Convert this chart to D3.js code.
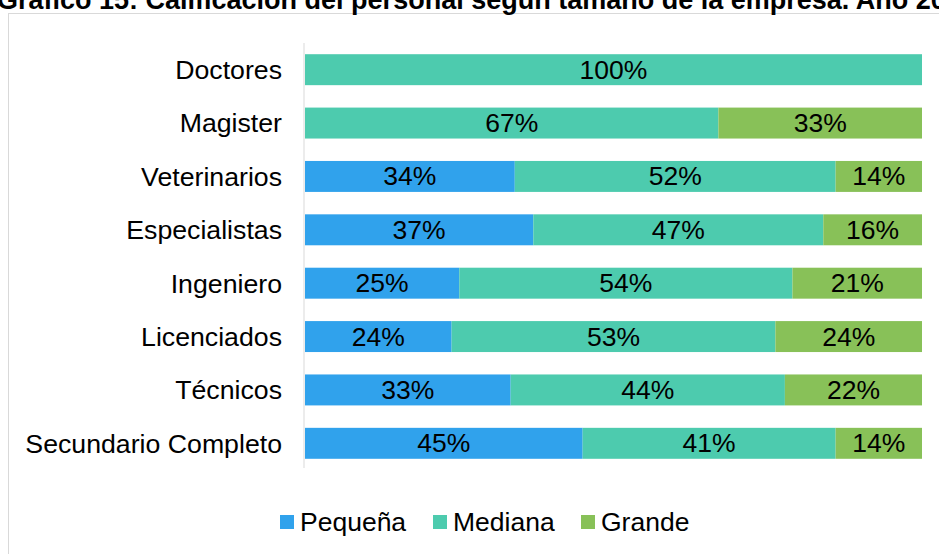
<!DOCTYPE html>
<html>
<head>
<meta charset="utf-8">
<script src="https://cdn.jsdelivr.net/npm/d3@7"></script>
<style>
  body { margin: 0; background: #fff; overflow: hidden; }
  text { font-family: "Liberation Sans", Arial, sans-serif; fill: #000; }
</style>
</head>
<body>
<svg width="939" height="554"></svg>
<script>
// Data
const categories = ['Doctores', 'Magister', 'Veterinarios', 'Especialistas', 'Ingeniero', 'Licenciados', 'Técnicos', 'Secundario Completo']
const pequena = [0, 0, 34, 37, 25, 24, 33, 45]
const mediana = [100, 67, 52, 47, 54, 53, 44, 41]
const grande = [0, 33, 14, 16, 21, 24, 22, 14]
const seriesNames = ['Pequeña', 'Mediana', 'Grande']
const colors = ['#30a2ec', '#4dcbae', '#88c158']

const rows = categories.map((c, i) => ({cat: c, 'Pequeña': pequena[i], 'Mediana': mediana[i], 'Grande': grande[i]}))

const svg = d3.select('svg')

// outer frame
svg.append('rect')
  .attr('x', 8.5).attr('y', 13.5)
  .attr('width', 1000).attr('height', 1000)
  .attr('fill', 'none').attr('stroke', '#d9d9d9')

// title (clipped at the top in the original)
svg.append('text')
  .attr('x', -3).attr('y', 9)
  .style('font-size', '27px').style('font-weight', 'bold')
  .text('Gráfico 15: Calificación del personal según tamaño de la empresa. Año 2018')

const x = d3.scaleLinear().domain([0, 1]).range([305, 922])
const y = d3.scaleBand().domain(categories).range([43, 470]).paddingInner(0.42).paddingOuter(0.21)
const color = d3.scaleOrdinal().domain(seriesNames).range(colors)

const stacked = d3.stack().keys(seriesNames).offset(d3.stackOffsetExpand)(rows)

const layer = svg.append('g').selectAll('g')
  .data(stacked)
  .join('g')
  .attr('fill', d => color(d.key))

layer.selectAll('rect')
  .data(d => d.filter(p => p[1] > p[0]))
  .join('rect')
  .attr('x', d => x(d[0]))
  .attr('y', d => y(d.data.cat))
  .attr('width', d => x(d[1]) - x(d[0]))
  .attr('height', y.bandwidth())

// value labels
stacked.forEach(s => {
  svg.append('g').selectAll('text')
    .data(s.filter(p => p.data[s.key] > 0))
    .join('text')
    .attr('x', d => (x(d[0]) + x(d[1])) / 2)
    .attr('y', d => y(d.data.cat) + y.bandwidth() / 2)
    .attr('text-anchor', 'middle')
    .attr('dominant-baseline', 'central')
    .style('font-size', '26.5px')
    .text(d => d.data[s.key] + '%')
})

// category axis
const axis = svg.append('g')
  .attr('transform', 'translate(304,0)')
  .call(d3.axisLeft(y).tickSize(0).tickPadding(22))
axis.select('.domain').attr('stroke', '#d9d9d9').attr('d', 'M0,43V468')
axis.selectAll('text').style('font-size', '26.7px').attr('dy', '0.35em')

// legend
const legendX = [280, 433, 581]
const legend = svg.append('g').selectAll('g')
  .data(seriesNames)
  .join('g')
  .attr('transform', (d, i) => `translate(${legendX[i]},515)`)
legend.append('rect')
  .attr('width', 14).attr('height', 14)
  .attr('fill', d => color(d))
legend.append('text')
  .attr('x', 20).attr('y', 7)
  .attr('dominant-baseline', 'central')
  .style('font-size', '26.5px')
  .text(d => d)
</script>
</body>
</html>
